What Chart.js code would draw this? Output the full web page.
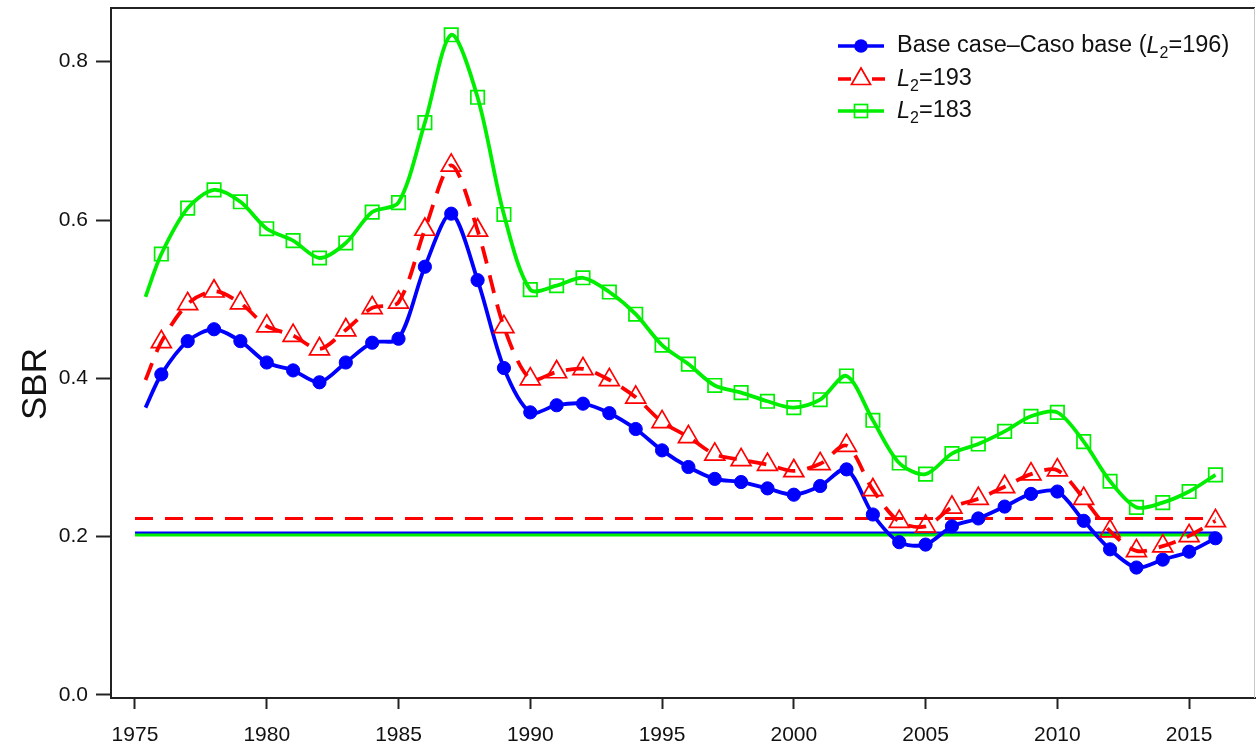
<!DOCTYPE html>
<html>
<head>
<meta charset="utf-8">
<script src="https://cdn.jsdelivr.net/npm/chart.js@4.4.0/dist/chart.umd.min.js"></script>
<style>
  html, body { margin: 0; padding: 0; background: #fff; }
  canvas { display: block; }
</style>
</head>
<body>
<canvas id="c" width="1257" height="747"></canvas>
<script>
// Years carrying a yearly marker
const years = [1976, 1977, 1978, 1979, 1980, 1981, 1982, 1983, 1984, 1985,
               1986, 1987, 1988, 1989, 1990, 1991, 1992, 1993, 1994, 1995,
               1996, 1997, 1998, 1999, 2000, 2001, 2002, 2003, 2004, 2005,
               2006, 2007, 2008, 2009, 2010, 2011, 2012, 2013, 2014, 2015, 2016];

// Each trajectory begins a little after 1975, before the first marker
const startYear = 1975.4;
const startBase = 0.363;
const start193 = 0.398;
const start183 = 0.503;

// Spawning biomass ratio, base case (L2 = 196)
const sbrBase = [0.405, 0.447, 0.462, 0.447, 0.420, 0.410, 0.395, 0.420, 0.445, 0.450,
                 0.541, 0.608, 0.524, 0.413, 0.357, 0.366, 0.368, 0.356, 0.336, 0.309,
                 0.288, 0.273, 0.269, 0.261, 0.253, 0.264, 0.285, 0.228, 0.193, 0.190,
                 0.213, 0.223, 0.238, 0.254, 0.257, 0.220, 0.184, 0.161, 0.171, 0.181, 0.198];

// L2 = 193
const sbr193 = [0.446, 0.494, 0.510, 0.495, 0.466, 0.454, 0.437, 0.461, 0.489, 0.496,
                0.588, 0.669, 0.587, 0.465, 0.399, 0.408, 0.412, 0.398, 0.376, 0.345,
                0.326, 0.304, 0.297, 0.291, 0.283, 0.292, 0.315, 0.259, 0.219, 0.213,
                0.237, 0.248, 0.263, 0.279, 0.284, 0.248, 0.207, 0.182, 0.188, 0.201, 0.220];

// L2 = 183
const sbr183 = [0.557, 0.615, 0.638, 0.623, 0.589, 0.574, 0.552, 0.571, 0.610, 0.622,
                0.723, 0.834, 0.755, 0.607, 0.512, 0.517, 0.527, 0.509, 0.481, 0.442,
                0.418, 0.391, 0.382, 0.371, 0.363, 0.373, 0.403, 0.347, 0.293, 0.279,
                0.305, 0.317, 0.333, 0.352, 0.357, 0.320, 0.270, 0.237, 0.243, 0.257, 0.278];

// Reference SBR levels (horizontal lines)
const refYears = [1975, 2016];
const refBase = 0.2045;
const ref193 = 0.223;
const ref183 = 0.2022;

// Axis ticks
const xTicks = [1975, 1980, 1985, 1990, 1995, 2000, 2005, 2010, 2015];
const yTicks = [0.0, 0.2, 0.4, 0.6, 0.8];

const FONT = '"Liberation Sans", Arial, Helvetica, sans-serif';
const BLUE = '#0000ff', RED = '#ff0000', GREEN = '#00ee00';

function series(start, vals) {
  return [{ x: startYear, y: start }].concat(years.map((yr, i) => ({ x: yr, y: vals[i] })));
}
function refLine(v) {
  return refYears.map(yr => ({ x: yr, y: v }));
}
// no marker on the leading point of each trajectory
const markerSize = r => ctx => (ctx.dataIndex === 0 ? 0 : r);

const datasets = [
  {
    label: 'ref base', data: refLine(refBase), borderColor: BLUE, borderWidth: 3,
    pointRadius: 0, tension: 0, order: 6
  },
  {
    label: 'ref 193', data: refLine(ref193), borderColor: RED, borderWidth: 3,
    borderDash: [18, 12], pointRadius: 0, tension: 0, order: 5
  },
  {
    label: 'ref 183', data: refLine(ref183), borderColor: GREEN, borderWidth: 3,
    pointRadius: 0, tension: 0, order: 4
  },
  {
    label: 'Base case', data: series(startBase, sbrBase), borderColor: BLUE, borderWidth: 3.8,
    tension: 0.3, pointStyle: 'circle', pointRadius: markerSize(6.6),
    pointBackgroundColor: BLUE, pointBorderColor: BLUE, pointBorderWidth: 1, order: 3
  },
  {
    label: 'L2=193', data: series(start193, sbr193), borderColor: RED, borderWidth: 3.8,
    borderDash: [18, 12], tension: 0.3, pointStyle: 'triangle', pointRadius: markerSize(11.5),
    pointBackgroundColor: 'rgba(0,0,0,0)', pointBorderColor: RED, pointBorderWidth: 1.7, order: 2
  },
  {
    label: 'L2=183', data: series(start183, sbr183), borderColor: GREEN, borderWidth: 3.8,
    tension: 0.3, pointStyle: 'rect', pointRadius: markerSize(9.5),
    pointBackgroundColor: 'rgba(0,0,0,0)', pointBorderColor: GREEN, pointBorderWidth: 1.7, order: 1
  }
];

// Frame, axis title and legend
const decorations = {
  id: 'decorations',
  afterDraw(chart) {
    const { ctx, chartArea: a } = chart;
    ctx.save();
    // top edge of the box
    ctx.strokeStyle = '#222';
    ctx.lineWidth = 2;
    ctx.beginPath();
    ctx.moveTo(a.left - 1, a.top);
    ctx.lineTo(a.right, a.top);
    ctx.stroke();
    // faint right edge
    ctx.strokeStyle = '#c8c8c8';
    ctx.lineWidth = 1;
    ctx.beginPath();
    ctx.moveTo(a.right - 0.5, a.top);
    ctx.lineTo(a.right - 0.5, a.bottom);
    ctx.stroke();
    ctx.restore();

    // y-axis title
    ctx.save();
    ctx.translate(36, 384);
    ctx.rotate(-Math.PI / 2);
    ctx.font = '35px ' + FONT;
    ctx.fillStyle = '#111';
    ctx.textAlign = 'center';
    ctx.textBaseline = 'middle';
    ctx.fillText('SBR', 0, 0);
    ctx.restore();

    // legend
    const x0 = 838, x1 = 884, xm = 861, tx = 897;
    const rows = [46, 79, 111];
    ctx.save();
    ctx.lineCap = 'butt';

    // row 1: base case
    ctx.strokeStyle = BLUE; ctx.lineWidth = 3.5;
    ctx.beginPath(); ctx.moveTo(x0, rows[0]); ctx.lineTo(x1, rows[0]); ctx.stroke();
    ctx.fillStyle = BLUE;
    ctx.beginPath(); ctx.arc(xm, rows[0], 6.8, 0, Math.PI * 2); ctx.fill();

    // row 2: L2 = 193
    ctx.strokeStyle = RED; ctx.lineWidth = 3.5;
    ctx.setLineDash([13, 21]);
    ctx.beginPath(); ctx.moveTo(x0, rows[1]); ctx.lineTo(x1 + 1, rows[1]); ctx.stroke();
    ctx.setLineDash([]);
    ctx.lineWidth = 1.7;
    const r = 11;
    ctx.beginPath();
    ctx.moveTo(xm, rows[1] - r);
    ctx.lineTo(xm + r * Math.sqrt(3) / 2, rows[1] + r / 2);
    ctx.lineTo(xm - r * Math.sqrt(3) / 2, rows[1] + r / 2);
    ctx.closePath(); ctx.stroke();

    // row 3: L2 = 183
    ctx.strokeStyle = GREEN; ctx.lineWidth = 3.5;
    ctx.beginPath(); ctx.moveTo(x0, rows[2]); ctx.lineTo(x1, rows[2]); ctx.stroke();
    ctx.lineWidth = 1.7;
    ctx.strokeRect(xm - 6.5, rows[2] - 6.5, 13, 13);

    // legend texts with italic L and subscript 2
    ctx.fillStyle = '#111';
    ctx.textBaseline = 'middle';
    ctx.textAlign = 'left';
    const normal = '23.5px ' + FONT, italic = 'italic 23.5px ' + FONT, sub = '16px ' + FONT;
    function piece(text, font, x, y) {
      ctx.font = font;
      ctx.fillText(text, x, y);
      return x + ctx.measureText(text).width;
    }
    function l2(x, y) {
      x = piece('L', italic, x, y);
      return piece('2', sub, x, y + 8);
    }
    let x = piece('Base case\u2013Caso base (', normal, tx, rows[0]);
    x = l2(x, rows[0]);
    piece('=196)', normal, x, rows[0]);

    x = l2(tx, rows[1]);
    piece('=193', normal, x, rows[1]);

    x = l2(tx, rows[2]);
    piece('=183', normal, x, rows[2]);
    ctx.restore();
  }
};

// keep the plotting box fixed: no extra room reserved for overhanging labels
function fixBox(size, key) {
  return s => {
    s[key] = size;
    s.paddingTop = 0; s.paddingBottom = 0; s.paddingLeft = 0; s.paddingRight = 0;
  };
}

new Chart(document.getElementById('c'), {
  type: 'line',
  data: { datasets },
  options: {
    responsive: false,
    animation: false,
    devicePixelRatio: 1,
    layout: { autoPadding: false, padding: { left: 0, top: 8, right: 2, bottom: 0 } },
    plugins: { legend: { display: false }, tooltip: { enabled: false } },
    scales: {
      x: {
        type: 'linear',
        min: 1974.09,
        max: 2017.5,
        afterBuildTicks: s => { s.ticks = xTicks.map(v => ({ value: v })); },
        afterFit: fixBox(49, 'height'),
        ticks: {
          color: '#111', font: { family: FONT, size: 21 }, padding: 14,
          maxRotation: 0, autoSkip: false, callback: v => String(v)
        },
        grid: {
          display: true, drawOnChartArea: false, drawTicks: true,
          tickLength: 11, tickColor: '#222', tickWidth: 2
        },
        border: { display: true, color: '#222', width: 2 }
      },
      y: {
        type: 'linear',
        min: -0.0038,
        max: 0.8678,
        afterBuildTicks: s => { s.ticks = yTicks.map(v => ({ value: v })); },
        afterFit: fixBox(111, 'width'),
        ticks: {
          color: '#111', font: { family: FONT, size: 21 }, padding: 8,
          callback: v => Number(v).toFixed(1)
        },
        grid: {
          display: true, drawOnChartArea: false, drawTicks: true,
          tickLength: 15, tickColor: '#222', tickWidth: 2
        },
        border: { display: true, color: '#222', width: 2 }
      }
    }
  },
  plugins: [decorations]
});
</script>
</body>
</html>
